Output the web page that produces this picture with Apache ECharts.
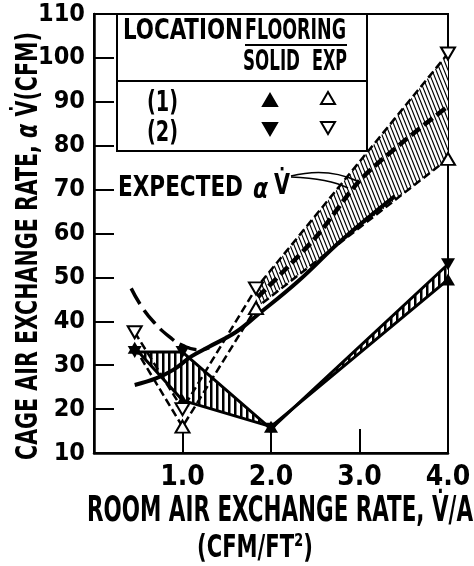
<!DOCTYPE html>
<html>
<head>
<meta charset="utf-8">
<script src="https://cdn.jsdelivr.net/npm/echarts@6/dist/echarts.min.js"></script>
<style>
  html, body { margin: 0; padding: 0; background: #fff; }
  #chart { width: 474px; height: 566px; }
</style>
</head>
<body>
<div id="chart"></div>
<script>
const FAMILY = '"Liberation Sans Narrow", "DejaVu Sans Condensed", "Arial Narrow", sans-serif';

// Axis ticks
const xTickValues = [1.0, 2.0, 3.0, 4.0];
const yTickValues = [10, 20, 30, 40, 50, 60, 70, 80, 90, 100, 110];

// Location (1), solid flooring (filled up-triangle)
const solid1X = [0.46, 1.0, 2.0, 4.0];
const solid1Y = [34, 22, 16, 49.5];
// Location (2), solid flooring (filled down-triangle)
const solid2X = [0.46, 1.0, 2.0, 4.0];
const solid2Y = [33, 33, 15.5, 53];
// Location (1), expanded flooring (open up-triangle)
const exp1X = [0.46, 1.0, 1.83, 4.0];
const exp1Y = [34, 16, 43, 77];
// Location (2), expanded flooring (open down-triangle)
const exp2X = [0.46, 1.0, 1.83, 4.0];
const exp2Y = [37.5, 20, 47.5, 101];

// Expected alpha-V curves
const expectedX = [0.46, 0.7, 0.9, 1.1, 1.3, 1.6, 1.85, 2.3, 2.8, 3.4];
const expectedY = [25.5, 27, 29, 32, 34.2, 37.5, 41.5, 49, 58.5, 68.5];
const lowRateX = [0.42, 0.55, 0.7, 0.85, 1.0, 1.2, 1.3];
const lowRateY = [47.5, 43, 39.3, 36.5, 34.5, 33.5, 34];
const meanX = [1.85, 2.5, 3.0, 3.5, 4.0];
const meanY = [45.5, 59, 72, 81, 89];

const pairs = (xs, ys) => xs.map((x, i) => [x, ys[i]]);

// Hatch fills
function stripePattern() {
  const c = document.createElement('canvas');
  c.width = 6; c.height = 6;
  const g = c.getContext('2d');
  g.fillStyle = '#fff'; g.fillRect(0, 0, 6, 6);
  g.fillStyle = '#000'; g.fillRect(0, 0, 2.5, 6);
  return { image: c, repeat: 'repeat' };
}
function diagonalPattern() {
  const w = 4, h = 10;
  const c = document.createElement('canvas');
  c.width = w; c.height = h;
  const g = c.getContext('2d');
  g.fillStyle = '#fff'; g.fillRect(0, 0, w, h);
  g.strokeStyle = '#000'; g.lineWidth = 1.2;
  g.beginPath();
  for (let k = -1; k <= 1; k++) { g.moveTo(k * w, 0); g.lineTo(k * w + w, h); }
  g.stroke();
  return { image: c, repeat: 'repeat' };
}

function bandSeries(topX, topY, botX, botY, fill) {
  return {
    type: 'custom', silent: true, z: 1,
    encode: { x: 0, y: 1 },
    data: [[topX[0], topY[0]]],
    renderItem: function (params, api) {
      const pts = [];
      for (let i = 0; i < topX.length; i++) pts.push(api.coord([topX[i], topY[i]]));
      for (let i = botX.length - 1; i >= 0; i--) pts.push(api.coord([botX[i], botY[i]]));
      return { type: 'polygon', shape: { points: pts }, style: { fill: fill, stroke: null } };
    }
  };
}

// Text helpers: real text, horizontally fitted to a target width
const measureCtx = document.createElement('canvas').getContext('2d');
function fontStr(size, italic) { return (italic ? 'italic ' : '') + 'bold ' + size + 'px ' + FAMILY; }
function fitted(text, left, cy, width, size, extra) {
  measureCtx.font = fontStr(size, extra && extra.italic);
  const s = width / measureCtx.measureText(text).width;
  return {
    type: 'text', x: left, y: cy, scaleX: s, z: 20,
    style: {
      text: text, x: 0, y: 0, fill: '#000',
      font: fontStr(size, extra && extra.italic),
      align: 'left', verticalAlign: 'middle',
      textAlign: 'left', textVerticalAlign: 'middle'
    }
  };
}
function tri(cx, cy, up, filled) {
  const h = 12, w = 14;
  const pts = up
    ? [[cx - w / 2, cy + h / 2], [cx + w / 2, cy + h / 2], [cx, cy - h / 2]]
    : [[cx - w / 2, cy - h / 2], [cx + w / 2, cy - h / 2], [cx, cy + h / 2]];
  return { type: 'polygon', z: 20, shape: { points: pts },
    style: { fill: filled ? '#000' : '#fff', stroke: '#000', lineWidth: 2 } };
}

const yTitle = 'CAGE AIR EXCHANGE RATE, α V̇(CFM)';
measureCtx.font = fontStr(31);
const yTitleScale = 428 / measureCtx.measureText(yTitle).width;

const chart = echarts.init(document.getElementById('chart'), null, { renderer: 'canvas' });

const option = {
  animation: false,
  backgroundColor: '#fff',
  grid: {
    left: 94, right: 26, top: 14, bottom: 113,
    show: true, borderColor: '#000', borderWidth: 2,
    containLabel: false, outerBoundsMode: 'none'
  },
  xAxis: {
    type: 'value', min: 0, max: 4, interval: 1,
    axisLine: { show: true, lineStyle: { color: '#000', width: 2.5 } },
    axisTick: { show: true, inside: true, length: 24, lineStyle: { color: '#000', width: 2 } },
    splitLine: { show: false },
    axisLabel: {
      showMinLabel: false, margin: 11, color: '#000',
      fontFamily: FAMILY, fontWeight: 'bold', fontSize: 28,
      formatter: v => (xTickValues.indexOf(v) >= 0 ? v.toFixed(1) : '')
    }
  },
  yAxis: {
    type: 'value', min: 10, max: 110, interval: 10,
    axisLine: { show: true, lineStyle: { color: '#000', width: 2.5 } },
    axisTick: { show: true, inside: true, length: 20, lineStyle: { color: '#000', width: 2 } },
    splitLine: { show: false },
    axisLabel: {
      margin: 9, color: '#000',
      fontFamily: FAMILY, fontWeight: 'bold', fontSize: 25,
      formatter: v => (yTickValues.indexOf(v) >= 0 ? String(v) : '')
    }
  },
  series: [
    bandSeries(solid2X, solid2Y, solid1X, solid1Y, stripePattern()),
    bandSeries(exp2X.slice(2), exp2Y.slice(2), exp1X.slice(2), exp1Y.slice(2), diagonalPattern()),
    {
      name: 'expected', type: 'line', z: 3, smooth: 0.4, showSymbol: false, silent: true,
      data: pairs(expectedX, expectedY),
      lineStyle: { color: '#000', width: 4 }
    },
    {
      name: 'expected low rate', type: 'line', z: 3, smooth: 0.5, showSymbol: false, silent: true,
      data: pairs(lowRateX, lowRateY),
      lineStyle: { color: '#000', width: 3.5, type: [18, 7] }
    },
    {
      name: 'expected mean', type: 'line', z: 3, smooth: 0.3, showSymbol: false, silent: true,
      data: pairs(meanX, meanY),
      lineStyle: { color: '#000', width: 4.5, type: [11, 5] }
    },
    {
      name: '(1) SOLID', type: 'line', z: 4, silent: true,
      data: pairs(solid1X, solid1Y),
      symbol: 'triangle', symbolSize: [14, 12],
      itemStyle: { color: '#000' },
      lineStyle: { color: '#000', width: 3 }
    },
    {
      name: '(2) SOLID', type: 'line', z: 4, silent: true,
      data: pairs(solid2X, solid2Y),
      symbol: 'triangle', symbolRotate: 180, symbolSize: [14, 12],
      itemStyle: { color: '#000' },
      lineStyle: { color: '#000', width: 3 }
    },
    {
      name: '(1) EXP', type: 'line', z: 5, silent: true,
      data: pairs(exp1X, exp1Y).map((p, i) => (i === 0 ? { value: p, symbol: 'none' } : p)),
      symbol: 'triangle', symbolSize: [14, 12],
      itemStyle: { color: '#fff', borderColor: '#000', borderWidth: 2 },
      lineStyle: { color: '#000', width: 2.5, type: [8, 4] }
    },
    {
      name: '(2) EXP', type: 'line', z: 5, silent: true,
      data: pairs(exp2X, exp2Y),
      symbol: 'triangle', symbolRotate: 180, symbolSize: [14, 12],
      itemStyle: { color: '#fff', borderColor: '#000', borderWidth: 2 },
      lineStyle: { color: '#000', width: 2.5, type: [8, 4] }
    }
  ],
  graphic: [
    // key table
    { type: 'rect', z: 15, shape: { x: 117, y: 14, width: 250, height: 137 },
      style: { fill: '#fff', stroke: '#000', lineWidth: 2 } },
    { type: 'line', z: 16, shape: { x1: 117, y1: 81, x2: 367, y2: 81 }, style: { stroke: '#000', lineWidth: 2 } },
    fitted('LOCATION', 123, 31, 120, 29),
    fitted('FLOORING', 245, 31, 101, 29),
    { type: 'line', z: 16, shape: { x1: 245, y1: 45, x2: 347, y2: 45 }, style: { stroke: '#000', lineWidth: 2 } },
    fitted('SOLID', 243, 62, 57, 29),
    fitted('EXP', 312, 62, 35, 29),
    fitted('(1)', 147, 103, 31, 29),
    fitted('(2)', 147, 133, 31, 29),
    tri(270, 100, true, true),
    tri(328, 98, true, false),
    tri(270, 129, false, true),
    tri(328, 128, false, false),
    // expected label and pointer
    fitted('EXPECTED', 118, 188, 125, 29),
    fitted('α', 253, 190, 15, 29, { italic: true }),
    fitted('V̇', 274, 186, 16, 29),
    { type: 'bezierCurve', z: 16,
      shape: { x1: 291, y1: 176, cpx1: 315, cpy1: 170, cpx2: 338, cpy2: 172, x2: 357, y2: 181 },
      style: { stroke: '#000', lineWidth: 1.6, fill: null } },
    { type: 'bezierCurve', z: 16,
      shape: { x1: 291, y1: 177, cpx1: 315, cpy1: 178, cpx2: 334, cpy2: 181, x2: 348, y2: 188 },
      style: { stroke: '#000', lineWidth: 1.6, fill: null } },
    // axis titles
    fitted('ROOM AIR EXCHANGE RATE, V̇/A', 87, 512, 386, 35),
    fitted('(CFM/FT²)', 197, 549, 116, 32),
    {
      type: 'text', x: 29, y: 246, rotation: Math.PI / 2, scaleX: yTitleScale, z: 20,
      style: {
        text: 'CAGE AIR EXCHANGE RATE, {a|α} V̇(CFM)',
        rich: { a: { font: fontStr(31, true), fill: '#000' } },
        x: 0, y: 0, fill: '#000', font: fontStr(31),
        align: 'center', verticalAlign: 'middle',
        textAlign: 'center', textVerticalAlign: 'middle'
      }
    }
  ]
};

chart.setOption(option);
</script>
</body>
</html>
